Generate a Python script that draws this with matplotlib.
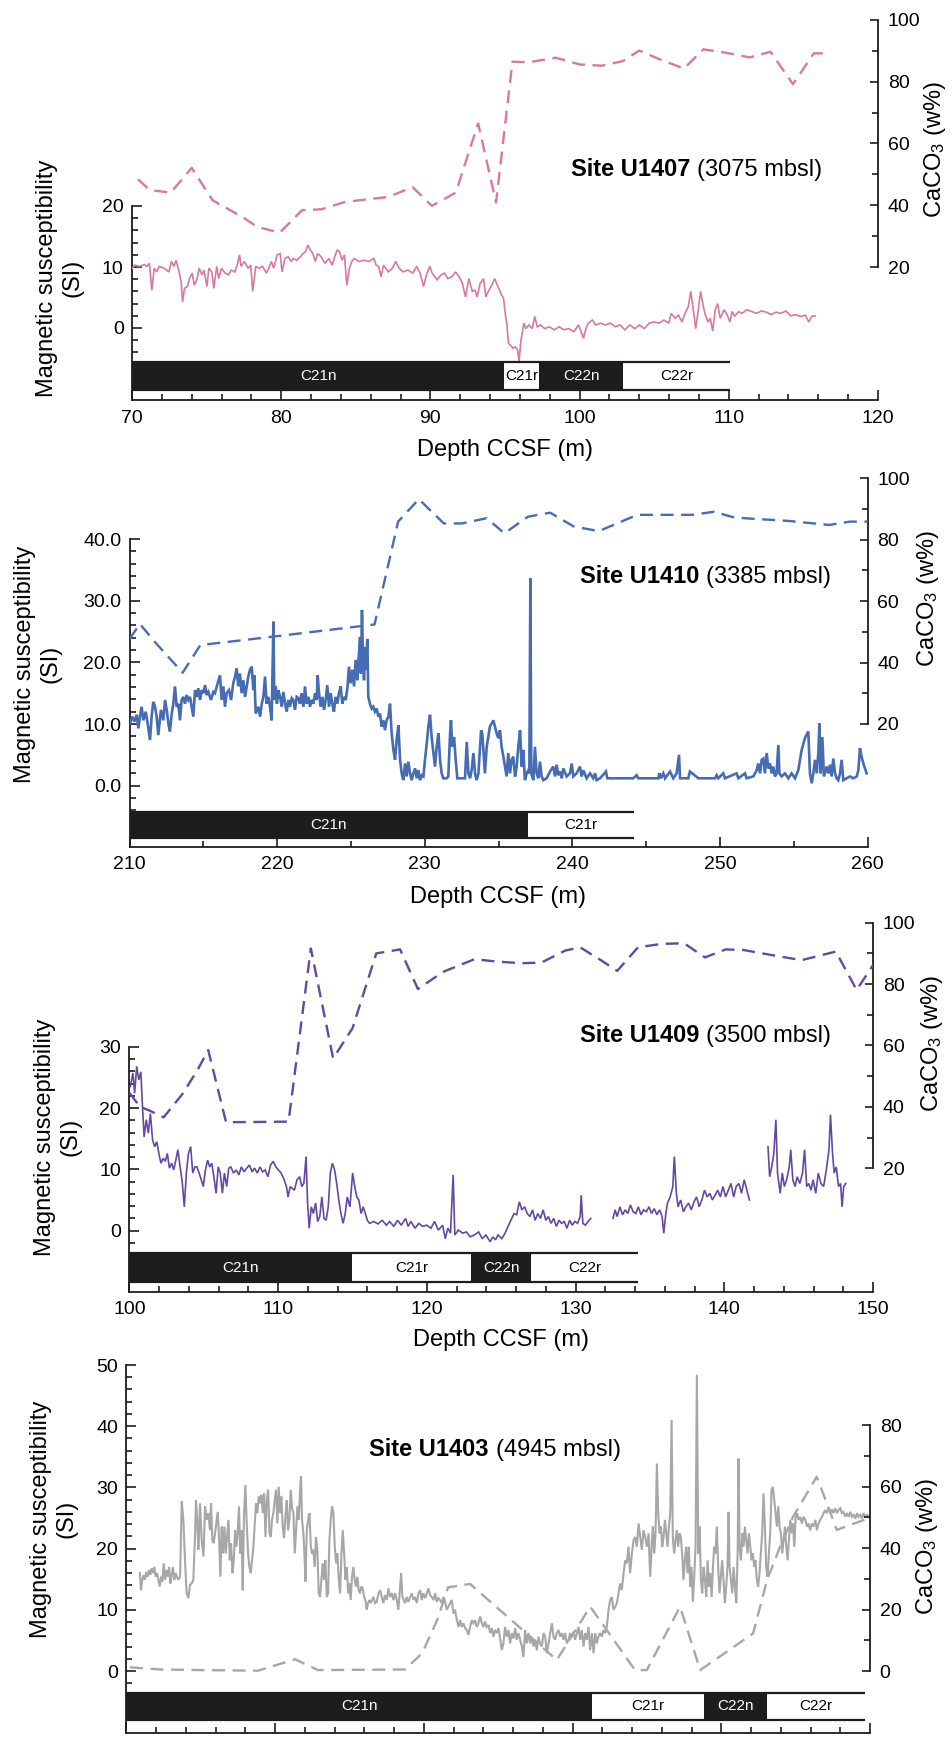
import matplotlib
matplotlib.use('Agg')
import matplotlib.pyplot as plt
from matplotlib.patches import Rectangle

plt.rcParams['font.family'] = ['Liberation Sans', 'DejaVu Sans']
plt.rcParams['mathtext.fontset'] = 'custom'
plt.rcParams['mathtext.rm'] = 'Liberation Sans'
plt.rcParams['mathtext.it'] = 'Liberation Sans:italic'
plt.rcParams['mathtext.bf'] = 'Liberation Sans:bold'

NaN = float('nan')

# ---------------- Site U1407 ----------------
u1407_ms_depth = [70.02,70.18,70.51,70.84,71.00,71.17,71.33,71.49,71.66,71.82,
72.15,72.47,72.64,72.80,72.96,73.13,73.29,73.39,73.52,73.71,
73.85,74.04,74.17,74.37,74.50,74.70,74.83,75.02,75.15,75.35,
75.48,75.68,75.81,76.00,76.23,76.46,76.66,76.89,77.05,77.21,
77.31,77.54,77.77,77.96,78.09,78.29,78.52,78.75,79.01,79.17,
79.34,79.50,79.73,79.93,80.06,80.25,80.48,80.65,80.81,81.04,
81.30,81.46,81.63,81.79,81.95,82.12,82.28,82.44,82.67,82.93,
83.20,83.42,83.59,83.75,83.91,84.08,84.24,84.40,84.57,84.73,
84.89,85.22,85.55,85.88,86.20,86.37,86.53,86.69,86.86,87.18,
87.45,87.67,87.90,88.16,88.49,88.82,89.08,89.31,89.54,89.73,
89.96,90.12,90.45,90.71,90.94,91.17,91.43,91.69,91.92,92.15,
92.35,92.58,92.81,93.00,93.13,93.33,93.56,93.72,93.88,94.11,
94.31,94.44,94.64,94.77,94.90,95.03,95.13,95.23,95.36,95.52,
95.68,95.85,95.94,96.07,96.27,96.40,96.60,96.83,96.99,97.16,
97.39,97.65,97.97,98.30,98.63,98.95,99.28,99.61,99.93,100.10,
100.26,100.42,100.59,100.85,101.08,101.40,101.73,102.06,102.38,102.71,
103.04,103.36,103.69,104.02,104.34,104.67,105.00,105.33,105.65,105.98,
106.14,106.40,106.63,106.86,107.12,107.29,107.45,107.61,107.78,107.94,
108.11,108.27,108.43,108.60,108.76,108.92,109.09,109.25,109.42,109.68,
109.90,110.07,110.23,110.39,110.66,110.88,111.21,111.54,111.86,112.19,
112.52,112.84,113.17,113.50,113.82,114.15,114.48,114.81,115.13,115.36,
115.56,115.79]
u1407_ms_si = [9.8,10.3,10.1,10.4,10.1,10.6,6.2,9.8,9.2,10.1,
9.8,9.2,10.9,10.1,11.1,9.5,7.6,4.3,6.5,6.8,
8.1,9.0,7.0,8.1,9.8,8.7,9.5,6.8,9.8,9.2,
6.5,10.1,8.1,9.8,9.0,8.7,9.5,9.2,10.3,12.0,
10.1,10.9,9.8,10.3,6.0,10.1,9.8,10.1,9.0,9.8,
10.9,9.8,12.0,12.2,9.2,11.4,11.7,10.9,11.4,11.1,
11.7,12.2,12.5,13.6,12.8,12.2,10.9,12.2,11.7,10.6,
11.4,10.3,11.7,12.8,12.5,11.1,12.0,7.0,9.8,10.9,
11.4,10.9,11.1,10.9,11.4,10.3,10.1,8.4,10.3,9.2,
9.8,10.9,9.8,9.2,9.5,9.0,10.1,9.0,6.8,8.7,
10.1,9.0,7.9,8.7,9.0,8.1,8.4,9.2,8.4,7.3,
5.1,8.1,6.0,6.2,5.1,7.3,8.1,5.1,6.0,7.0,
8.1,7.3,6.2,5.4,4.9,2.1,0.5,-2.5,-2.8,-3.3,
-3.1,-3.6,-5.5,-2.0,0.8,-0.1,0.5,-0.1,1.9,0.2,
0.5,-0.1,0.2,-0.3,0.2,-0.3,-0.1,-0.6,0.5,-0.6,
-1.7,-0.1,0.8,1.3,0.5,0.8,0.5,0.8,0.2,0.5,
-0.3,0.5,-0.1,0.5,-0.1,0.8,1.0,0.8,1.3,0.8,
2.4,1.6,2.1,1.0,2.7,3.5,6.0,3.2,-0.1,2.7,
6.0,3.8,2.1,1.0,1.6,-0.5,3.0,4.0,1.6,3.0,
2.1,1.0,2.7,1.9,2.7,2.4,3.0,2.7,2.4,2.8,
2.6,2.2,2.6,2.4,2.8,2.0,2.2,1.9,2.1,1.0,
1.9,2.0]
u1407_caco3_depth = [70.4,71.2,72.6,74.0,75.4,77.4,78.4,79.9,81.4,82.7,84.3,87.2,88.8,90.1,
                     91.7,93.2,94.4,95.5,96.6,98.4,100.0,101.5,102.9,104.0,105.5,107.0,
                     108.3,109.8,111.4,112.8,114.3,115.7,116.3]
u1407_caco3_pct = [48.4,44.9,44.1,52.1,41.6,36.2,33.0,31.1,38.4,38.7,41.1,42.7,45.9,39.8,
                   44.1,66.5,40.9,86.5,86.3,87.8,85.6,85.2,86.7,90.1,87.0,84.3,
                   90.5,89.4,87.9,89.7,79.2,89.2,89.2]
u1407_chron_names = ['C21n', 'C21r', 'C22n', 'C22r']
u1407_chron_top = [70.0, 94.95, 97.3, 102.9]
u1407_chron_base = [94.95, 97.3, 102.9, 110.1]
u1407_chron_normal = [True, False, True, False]

# ---------------- Site U1410 ----------------
u1410_ms_depth = [210.03,210.19,210.33,210.49,210.60,210.71,210.82,210.94,211.10,211.23,
211.39,211.50,211.61,211.73,211.84,211.95,212.13,212.29,212.41,212.54,
212.63,212.74,212.86,212.97,213.08,213.20,213.31,213.42,213.53,213.65,
213.76,213.87,213.99,214.10,214.21,214.32,214.44,214.55,214.66,214.78,
214.89,215.00,215.12,215.23,215.34,215.52,215.68,215.79,215.97,216.13,
216.24,216.36,216.47,216.58,216.74,216.88,217.03,217.15,217.26,217.37,
217.48,217.60,217.71,217.83,217.94,218.05,218.16,218.28,218.39,218.46,
218.55,218.73,218.85,218.96,219.07,219.18,219.29,219.41,219.52,219.63,
219.75,219.81,219.90,219.99,220.08,220.20,220.31,220.42,220.54,220.65,
220.76,220.87,220.99,221.10,221.21,221.33,221.44,221.55,221.66,221.78,
221.89,222.00,222.12,222.23,222.34,222.46,222.57,222.68,222.75,222.84,
222.95,223.07,223.18,223.29,223.40,223.52,223.63,223.74,223.85,223.97,
224.08,224.19,224.31,224.42,224.53,224.65,224.76,224.87,224.98,225.10,
225.21,225.32,225.44,225.50,225.62,225.68,225.75,225.82,225.89,225.96,
226.02,226.11,226.18,226.29,226.41,226.52,226.63,226.75,226.86,226.97,
227.08,227.20,227.31,227.42,227.54,227.65,227.76,227.88,227.99,228.10,
228.22,228.33,228.44,228.55,228.67,228.78,228.89,229.01,229.12,229.23,
229.35,229.46,229.57,229.68,229.80,229.91,230.02,230.14,230.25,230.36,
230.47,230.59,230.70,230.81,230.93,231.04,231.15,231.26,231.49,231.60,
231.72,231.78,231.87,231.99,232.10,232.21,232.73,232.85,232.96,233.07,
233.18,233.30,233.41,233.52,233.64,233.82,233.90,233.99,234.08,234.20,
234.31,234.42,234.54,234.65,234.76,234.87,234.99,235.10,235.21,235.33,
235.44,
235.55,235.66,235.78,235.89,236.00,236.12,236.23,236.34,236.46,236.57,
236.68,236.79,236.91,237.02,237.09,237.16,237.22,237.36,237.47,237.58,
237.70,237.81,237.92,238.04,238.26,238.49,238.71,238.83,238.94,239.05,
239.17,239.28,239.39,239.62,239.84,239.96,240.07,240.29,240.52,240.63,
240.75,240.97,241.20,241.42,241.54,241.65,241.88,242.28,242.37,244.13,
244.36,244.47,245.83,245.90,245.99,246.17,246.28,246.62,246.84,247.07,
247.23,247.30,247.86,247.97,248.54,249.67,249.78,249.89,250.23,250.34,
251.13,251.25,251.70,251.81,252.26,252.49,252.60,252.72,252.83,252.94,
253.05,253.17,253.28,253.39,253.51,253.62,253.73,253.84,253.96,254.03,
254.18,254.41,254.64,254.86,255.09,255.31,255.54,255.76,255.99,256.10,
256.22,256.33,256.44,256.56,256.67,256.74,256.83,256.94,257.05,257.23,
257.35,257.46,257.57,257.68,257.80,257.91,258.02,258.14,258.25,258.36,
258.81,259.04,259.27,259.38,259.49,259.60,259.72,259.83,259.94]
u1410_ms_si = [10.1,11.2,10.4,11.5,9.3,11.2,12.8,10.6,12.0,10.1,
7.4,11.2,13.6,12.8,11.2,8.2,12.3,10.6,13.9,12.0,
10.1,8.8,11.7,13.3,16.1,12.8,13.3,10.6,13.9,14.4,
13.3,14.7,13.9,14.4,12.8,11.2,15.5,14.4,15.8,13.9,
15.5,15.0,16.3,14.7,15.2,13.9,15.2,15.0,16.6,17.9,
13.9,16.1,12.8,15.0,15.5,13.9,16.6,17.7,19.0,16.1,
18.2,15.0,17.1,14.4,16.1,17.7,18.8,19.3,15.5,17.9,
11.7,12.8,11.2,13.3,14.4,17.7,13.3,14.4,12.8,10.6,
26.6,13.9,16.1,13.3,15.5,14.4,12.8,15.2,13.3,12.0,
13.9,12.8,14.2,13.9,12.3,14.4,14.2,13.3,15.0,12.8,
16.1,13.3,14.4,12.8,13.9,13.3,15.0,13.9,17.9,15.0,
12.8,14.4,12.3,13.9,16.3,12.8,15.0,13.3,12.0,14.4,
13.3,15.0,16.1,13.3,14.4,13.9,15.8,19.3,16.6,18.8,
16.1,20.4,17.1,19.8,24.1,18.2,28.5,20.4,17.1,22.5,
18.8,23.8,14.4,13.3,12.5,12.8,12.0,12.5,11.2,11.7,
9.6,10.6,9.0,10.6,11.2,13.3,8.5,5.8,4.2,7.4,
9.8,4.2,2.0,0.9,3.6,1.5,3.9,2.0,0.9,2.0,
2.8,1.2,2.5,0.9,1.7,1.5,4.2,6.9,9.6,11.5,
7.9,5.3,3.1,6.3,8.5,4.2,2.0,1.2,1.2,1.5,
8.5,10.6,6.3,7.9,4.2,1.2,1.2,7.1,2.0,1.2,
2.5,5.3,2.0,0.9,2.0,9.0,8.5,5.3,2.0,6.3,
7.9,9.6,10.1,10.6,9.6,8.5,7.7,9.0,6.3,4.7,
3.1,
1.5,5.3,2.0,4.2,4.7,1.5,3.1,6.3,9.0,3.1,
5.8,0.9,2.0,2.5,2.0,33.6,2.0,0.9,6.3,2.0,
1.2,3.9,1.5,0.9,1.2,2.3,3.1,1.5,3.4,1.7,
2.3,1.2,2.8,1.5,2.0,3.6,1.5,2.0,3.1,1.5,
2.5,1.2,2.0,1.2,2.0,0.9,1.2,2.3,1.2,1.2,
1.7,1.2,1.2,2.0,1.2,2.0,1.2,2.3,1.2,2.0,
5.0,1.2,1.2,2.3,1.2,1.2,1.7,1.2,2.0,1.2,
2.0,1.2,2.0,1.2,1.5,2.5,3.6,2.0,4.2,4.4,
2.0,5.3,2.8,3.6,2.0,3.1,1.5,2.0,6.6,2.0,
1.5,2.0,1.2,2.0,1.2,2.5,5.8,7.7,8.8,2.0,
0.4,2.0,4.2,2.0,5.3,10.1,2.0,7.9,1.5,3.1,
2.0,3.4,1.5,4.4,2.0,1.2,0.9,2.0,4.2,0.9,
1.5,1.2,1.5,2.5,6.1,4.7,3.6,2.8,2.0]
u1410_caco3_depth = [210.0,210.7,211.7,213.6,214.8,220.0,225.9,226.6,228.2,229.6,231.3,232.5,
                     234.2,235.4,237.0,238.5,240.1,241.8,244.4,248.1,249.6,251.0,254.7,257.4,
                     258.8,260.0]
u1410_caco3_pct = [47.6,52.6,46.8,36.7,45.7,48.6,52.0,52.4,85.9,93.2,85.3,85.3,
                   87.0,82.1,87.5,88.8,84.3,82.8,88.1,88.1,89.1,87.2,86.1,84.8,
                   85.9,85.9]
u1410_chron_names = ['C21n', 'C21r']
u1410_chron_top = [210.0, 237.0]
u1410_chron_base = [237.0, 244.2]
u1410_chron_normal = [True, False]

# ---------------- Site U1409 ----------------
u1409_ms_depth = [100.06,100.24,100.35,100.49,100.63,100.77,100.88,100.99,101.13,101.27,
101.41,101.48,101.56,101.70,101.84,101.98,102.12,102.27,102.41,102.55,
102.69,102.84,102.98,103.12,103.26,103.41,103.55,103.69,103.83,103.97,
104.12,104.26,104.40,104.54,104.69,104.83,104.97,105.11,105.26,105.40,
105.54,105.68,105.83,105.97,106.11,106.25,106.39,106.54,106.68,106.82,
107.00,107.18,107.36,107.53,107.71,107.89,108.07,108.25,108.42,108.60,
108.78,108.96,109.13,109.31,109.49,109.67,109.85,110.02,110.20,110.38,
110.56,110.67,110.81,110.95,111.09,111.27,111.45,111.59,111.73,111.88,
111.98,112.09,112.23,112.37,112.52,112.66,112.80,112.94,113.09,113.23,
113.37,113.51,113.65,113.80,113.94,114.08,114.22,114.37,114.51,114.65,
114.83,115.01,115.15,115.29,115.43,115.58,115.72,115.86,116.00,116.15,
116.43,116.71,117.00,117.28,117.50,117.78,118.03,118.28,118.57,118.74,
118.92,119.21,119.46,119.71,119.99,120.27,120.52,120.77,121.06,121.24,
121.41,121.59,121.77,121.88,122.12,122.41,122.66,122.91,123.19,123.48,
123.73,123.97,124.26,124.44,124.61,124.79,125.04,125.26,125.40,125.61,
125.86,126.04,126.22,126.39,126.57,126.75,126.93,127.11,127.28,127.46,
127.64,127.82,128.00,128.17,128.35,128.53,128.71,128.89,129.06,129.24,
129.42,129.60,129.77,129.95,130.13,130.31,130.38,130.49,130.66,130.84,
131.02, NaN,
132.52,132.66,132.80,132.98,133.16,133.34,133.51,133.69,133.87,134.05,
134.22,134.40,134.58,134.76,134.94,135.11,135.29,135.47,135.65,135.82,
135.93,136.07,136.18,136.36,136.54,136.64,136.78,136.89,137.07,137.25,
137.42,137.60,137.78,137.96,138.14,138.31,138.49,138.67,138.85,139.03,
139.20,139.38,139.56,139.74,139.91,140.09,140.27,140.45,140.63,140.80,
140.98,141.16,141.34,141.52,141.69, NaN,
142.94,143.05,143.19,143.33,143.47,143.58,143.76,143.90,144.04,144.19,
144.37,144.47,144.61,144.76,144.90,145.08,145.26,145.40,145.54,145.68,
145.83,145.97,146.15,146.32,146.50,146.68,146.86,147.04,147.14,147.28,
147.39,147.53,147.68,147.82,147.92,148.03,148.17]
u1409_ms_si = [23.5,25.7,22.4,26.8,24.6,25.9,20.2,15.3,18.1,15.9,
19.1,17.0,14.8,13.7,14.5,12.6,11.0,11.8,11.3,12.6,
10.2,11.0,9.9,11.5,13.2,10.4,8.0,3.9,9.4,12.6,
13.7,9.4,10.4,10.4,9.4,8.3,7.2,9.9,11.5,10.4,
11.0,8.8,6.1,10.4,9.4,6.1,9.4,7.2,10.2,10.4,
9.4,9.9,9.1,10.4,9.6,10.2,10.7,9.6,10.2,9.4,
10.4,9.6,9.9,8.8,10.7,11.3,10.4,9.9,9.4,8.5,
7.2,5.5,7.2,6.9,6.6,8.3,8.8,7.2,7.7,12.1,
4.5,0.4,3.9,2.8,4.5,1.5,2.3,5.5,2.0,1.7,
3.9,9.4,11.0,9.9,7.7,5.0,2.8,1.2,2.8,5.5,
3.9,9.4,7.2,5.5,5.0,2.8,3.9,2.8,1.7,1.2,
1.5,1.1,1.7,0.9,1.5,0.7,1.7,0.9,2.0,0.7,
1.5,0.4,1.2,0.7,0.9,0.4,1.5,0.1,0.9,-1.3,
0.4,-0.4,9.1,-0.7,0.1,-0.4,-0.2,-1.0,-0.7,-0.2,
-1.3,-0.7,-1.8,-1.0,-1.5,-0.7,-1.3,-0.4,0.4,1.5,
2.8,2.6,4.7,3.4,3.9,2.8,2.3,3.4,1.7,2.8,
2.0,3.4,1.7,2.3,1.2,2.0,0.7,1.7,1.2,1.5,
0.4,1.7,0.9,1.5,1.2,2.3,5.8,1.2,0.9,1.5,
2.0, NaN,
2.0,3.4,2.3,3.9,2.6,3.4,2.8,4.2,3.1,2.8,
3.9,2.6,3.4,3.1,3.9,2.8,3.6,2.6,3.4,2.3,
-0.4,2.8,4.5,5.5,7.2,12.1,6.1,3.9,5.0,3.1,
3.9,4.5,3.4,4.7,5.5,3.9,5.0,6.6,5.5,6.1,
5.0,5.8,6.6,5.5,7.2,5.5,6.6,7.7,5.5,7.2,
7.7,6.1,8.3,6.6,5.0, NaN,
13.7,8.8,10.4,12.6,18.1,9.4,6.1,9.4,7.2,8.3,
10.4,13.2,8.3,7.2,8.8,7.7,9.4,13.2,7.2,7.7,
6.6,8.3,6.1,9.4,7.7,7.2,9.9,13.2,18.9,12.6,
9.4,10.4,7.2,7.7,3.9,7.2,7.7]
u1409_caco3_depth = [100.0,100.7,101.4,102.3,103.6,104.6,105.3,106.5,110.7,112.2,
                     113.7,115.0,116.6,118.2,119.4,121.1,123.2,124.8,126.4,127.7,
                     129.3,130.3,131.7,132.8,134.2,135.8,137.3,138.7,140.1,141.3,
                     143.6,145.2,147.5,148.9,150.0]
u1409_caco3_pct = [44.6,40.1,38.7,36.6,44.4,52.2,58.5,35.0,35.2,91.6,
                   55.8,65.6,90.0,91.3,78.4,84.0,88.1,87.3,86.8,87.0,
                   90.9,92.0,87.8,84.3,92.0,93.1,93.3,88.7,91.3,91.1,
                   89.1,87.8,90.6,78.1,86.2]
u1409_chron_names = ['C21n', 'C21r', 'C22n', 'C22r']
u1409_chron_top = [100.0, 115.0, 123.0, 127.0]
u1409_chron_base = [115.0, 123.0, 127.0, 134.2]
u1409_chron_normal = [True, False, True, False]

# ---------------- Site U1403 ----------------
u1403_ms_depth = [120.91,120.98,121.07,121.16,121.25,121.34,121.43,121.52,121.61,121.70,
121.79,121.88,121.97,122.06,122.15,122.24,122.33,122.42,122.51,122.60,
122.69,122.78,122.87,122.96,123.04,123.13,123.22,123.31,123.40,123.49,
123.61,123.72,123.83,123.94,124.05,124.17,124.28,124.39,124.50,124.61,
124.68,124.77,124.84,124.95,125.06,125.18,125.29,125.40,125.51,125.62,
125.69,125.78,125.87,125.96,126.07,126.14,126.23,126.32,126.41,126.50,
126.59,126.68,126.77,126.86,126.95,127.04,127.13,127.22,127.31,127.40,
127.48,127.57,127.66,127.75,127.82,127.91,128.00,128.09,128.18,128.27,
128.36,128.45,128.54,128.63,128.72,128.81,128.90,128.99,129.08,129.17,
129.26,129.35,129.44,129.53,129.62,129.71,129.79,129.88,129.97,130.06,
130.15,130.24,130.33,130.42,130.51,130.60,130.69,130.78,130.87,130.96,
131.05,131.14,131.23,131.32,131.41,131.50,131.59,131.68,131.74,131.81,
131.90,131.97,132.04,132.13,132.22,132.31,132.40,132.48,132.57,132.66,
132.75,132.84,132.93,133.02,133.11,133.20,133.29,133.38,133.47,133.56,
133.65,133.74,133.83,133.92,134.01,134.10,134.19,134.28,134.37,134.46,
134.55,134.64,134.73,134.82,134.91,135.00,135.08,135.17,135.26,135.35,
135.44,135.53,135.62,135.71,135.80,135.89,135.98,136.07,136.16,136.25,
136.34,136.43,136.52,136.61,136.72,136.83,136.95,137.06,137.17,137.28,
137.39,137.51,137.62,137.73,137.84,137.96,138.07,138.18,138.29,138.40,
138.47,138.56,138.65,138.74,138.85,138.96,139.08,139.19,139.30,139.41,
139.53,139.64,139.75,139.86,139.97,140.09,140.20,140.31,140.42,140.53,
140.65,140.76,140.87,140.98,141.09,141.21,141.32,141.43,141.54,141.65,
141.77,141.88,141.99,142.10,142.22,142.33,142.44,142.55,142.66,142.78,
142.89,143.00,143.11,143.22,143.34,143.45,143.56,143.67,143.79,143.90,
144.01,144.12,144.23,144.35,144.46,144.57,144.68,144.79,144.91,145.02,
145.13,145.24,145.35,
145.46,145.58,145.69,145.80,145.91,146.03,146.14,146.25,146.36,146.48,
146.59,146.70,146.81,146.92,147.04,147.15,147.26,147.37,147.48,147.60,
147.71,147.82,147.93,148.05,148.16,148.27,148.38,148.49,148.61,148.72,
148.83,148.94,149.05,149.17,149.28,149.39,149.50,149.61,149.73,149.84,
149.95,150.06,150.17,150.29,150.40,150.51,150.62,150.74,150.85,150.96,
151.07,151.18,151.30,151.41,151.52,151.63,151.74,151.86,151.97,152.08,
152.19,152.30,152.42,152.53,152.64,152.75,152.87,152.98,153.09,153.20,
153.31,153.43,153.54,153.65,153.76,153.87,153.99,154.10,154.21,154.32,
154.44,154.55,154.66,154.77,154.88,155.00,155.11,155.22,155.33,155.40,
155.49,155.58,155.67,155.76,155.85,155.94,156.03,156.12,156.21,156.30,
156.39,156.48,156.57,156.66,156.74,156.83,156.92,157.01,157.10,157.19,
157.28,157.37,157.46,157.55,157.64,157.73,157.82,157.91,158.00,158.09,
158.18,158.27,158.36,158.45,158.54,158.63,158.72,158.81,158.90,158.99,
159.08,159.17,159.26,159.35,159.44,159.52,159.61,159.70,159.79,159.88,
159.97,160.06,160.15,160.24,160.33,160.42,160.49,160.56,160.65,160.74,
160.83,160.92,161.01,161.10,161.16,161.23,161.32,161.41,161.50,161.59,
161.68,161.77,161.86,161.95,162.04,162.13,162.22,162.30,162.39,162.48,
162.57,162.66,162.75,162.84,162.93,163.02,163.11,163.20,163.29,163.38,
163.47,163.56,163.65,163.74,163.83,163.92,164.01,164.10,164.19,164.28,
164.37,164.46,164.55,164.64,164.73,164.82,164.91,165.00,165.09,165.20,
165.31,165.42,165.53,165.65,165.76,165.87,165.98,166.09,166.21,166.32,
166.43,166.54,166.66,166.77,166.88,166.99,167.10,167.22,167.33,167.44,
167.55,167.66,167.78,167.89,168.00,168.11,168.22,168.34,168.45,168.56,
168.67,168.79,168.90,169.01,169.12,169.23,169.35,169.46,169.57,169.68,
169.79,169.91]
u1403_ms_si = [16.0,13.2,14.9,15.7,14.9,16.2,15.4,16.5,15.7,16.8,
16.0,17.0,15.4,16.0,14.9,13.8,15.4,14.6,17.6,14.9,
16.5,15.4,17.0,14.3,15.7,17.0,14.9,16.0,15.4,14.9,
15.4,27.7,24.7,18.1,12.7,11.9,14.1,14.3,14.9,21.9,
27.9,24.1,19.8,27.4,21.4,18.7,26.9,24.7,25.8,23.0,
27.4,21.4,20.9,22.5,24.7,26.0,21.9,15.4,23.6,19.2,
23.6,19.2,21.9,24.7,18.1,20.9,16.0,18.1,23.0,20.3,
22.5,26.9,19.2,23.0,13.2,25.8,30.4,24.1,19.2,17.0,
16.0,18.1,20.3,24.1,27.4,25.8,28.5,27.4,28.8,25.8,
29.0,21.9,27.9,29.6,22.5,21.9,24.7,25.8,27.9,29.6,
24.1,30.1,25.8,28.5,23.6,21.7,25.2,27.9,23.0,24.7,
29.6,26.6,25.8,19.2,23.0,26.9,24.7,29.6,31.8,24.7,
22.5,19.2,14.6,23.0,24.7,25.8,20.3,19.2,19.8,17.0,
21.9,19.8,12.7,12.1,14.9,17.6,14.9,18.1,12.1,12.7,
21.4,24.7,26.9,25.8,20.3,17.6,19.2,14.9,12.7,19.2,
23.0,19.2,14.9,17.0,12.7,14.3,11.6,15.4,17.0,14.9,
13.8,15.4,13.2,12.7,13.8,13.5,12.1,11.6,10.0,11.1,
11.6,11.1,11.6,12.1,11.1,11.3,12.7,13.2,12.1,11.1,
12.4,11.6,13.5,12.1,12.7,11.6,12.7,11.6,10.0,13.8,
16.0,12.1,11.6,11.1,12.1,11.3,12.1,12.7,11.6,12.1,
11.1,12.7,13.2,11.6,12.7,11.9,12.7,13.5,12.4,12.1,
11.6,12.7,11.3,11.9,11.6,11.1,12.1,11.3,10.0,10.5,
11.1,11.6,9.4,10.0,8.3,7.2,8.3,7.2,7.8,7.0,
6.7,5.9,7.2,8.3,7.8,8.3,7.2,7.8,8.9,7.8,
7.2,8.1,7.2,7.5,6.2,7.0,5.6,6.7,6.2,7.0,
5.3,3.4,4.5,
7.2,5.6,6.7,4.5,6.2,5.3,7.0,5.1,6.2,5.1,
4.0,2.3,6.7,4.5,6.2,4.5,5.6,4.0,5.1,3.4,
5.6,4.5,4.0,6.2,5.6,2.9,4.5,6.2,7.8,5.6,
5.1,6.2,6.7,5.6,6.2,5.1,6.2,4.5,5.1,6.2,
5.6,6.4,5.1,6.2,7.2,5.1,6.7,4.0,6.2,5.1,
7.2,3.4,6.2,2.9,6.2,4.5,5.6,6.2,5.6,6.7,
6.2,7.2,10.0,11.6,12.1,10.0,10.5,11.1,12.7,14.3,
13.2,16.0,18.1,17.6,20.3,16.0,19.2,21.4,21.9,20.3,
24.1,21.9,19.8,23.0,21.9,20.3,22.5,15.4,20.9,23.6,
19.2,22.5,33.9,25.8,22.5,23.6,20.3,21.9,24.7,22.5,
20.3,23.6,25.8,41.0,21.9,19.2,21.4,23.0,20.3,22.5,
21.9,19.2,14.9,18.1,20.3,16.0,20.3,13.8,17.0,11.3,
15.4,20.3,48.4,19.2,23.6,14.9,12.7,17.0,14.9,12.1,
18.1,13.8,16.0,12.1,17.0,20.3,19.2,23.6,17.0,12.7,
15.4,18.1,14.9,11.1,13.8,17.0,26.0,17.0,14.9,12.7,
17.0,13.8,11.1,19.2,34.7,20.3,18.1,22.5,20.3,23.6,
21.4,19.2,22.5,20.3,18.1,19.2,17.0,18.1,14.9,13.8,
16.0,19.2,22.5,29.0,23.6,17.0,15.4,19.2,22.5,29.6,
30.1,27.9,25.8,23.6,26.9,23.6,22.5,19.2,21.4,23.6,
20.3,18.1,21.4,24.7,22.5,24.1,20.3,25.2,25.8,24.7,
25.2,24.1,25.2,24.7,23.6,24.1,23.0,24.1,23.6,24.7,
23.0,24.1,24.7,25.2,25.8,26.3,25.8,26.6,26.0,26.3,
25.8,26.6,25.8,26.3,26.6,25.8,26.0,25.2,25.8,25.2,
26.0,25.2,25.5,24.9,25.8,25.2,25.5,24.9,25.8,25.2,
25.5,25.2]
u1403_caco3_depth = [120.24,122.26,124.95,128.85,131.34,132.88,138.73,139.88,140.89,141.63,
                     143.11,148.94,151.19,154.20,154.99,157.23,158.58,162.14,163.08,163.95,
                     164.83,166.42,167.77,169.87]
u1403_caco3_pct = [1.2,0.5,0.3,0.1,3.8,0.3,0.5,5.7,16.5,27.2,
                   28.3,3.6,20.9,0.3,0.3,20.9,0.3,12.2,29.6,40.4,
                   50.2,63.2,45.9,49.6]
u1403_chron_names = ['C21n', 'C21r', 'C22n', 'C22r']
u1403_chron_top = [120.0, 151.31, 158.81, 163.06]
u1403_chron_base = [151.31, 158.81, 163.06, 169.64]
u1403_chron_normal = [True, False, True, False]

site_names = ['Site U1407', 'Site U1410', 'Site U1409', 'Site U1403']
site_depths = ['(3075 mbsl)', '(3385 mbsl)', '(3500 mbsl)', '(4945 mbsl)']

# ---------------- figure ----------------
W, H = 952, 1742
fig = plt.figure(figsize=(W / 100, H / 100), dpi=100)
BLACK = '#1e1c1d'


def px_ylim(top, bottom, a, b):
    (v1, p1), (v2, p2) = a, b
    s = (p1 - p2) / (v2 - v1)
    return v1 - (bottom - p1) / s, v1 + (p1 - top) / s


def ftext(x, y, s, **kw):
    return fig.text(x / W, 1 - y / H, s, **kw)


panels = [
    dict(ms=(u1407_ms_depth, u1407_ms_si), ca=(u1407_caco3_depth, u1407_caco3_pct),
         chrons=(u1407_chron_names, u1407_chron_top, u1407_chron_base, u1407_chron_normal),
         color='#d87a98', ms_lw=1.2, ca_color='#d87a98',
         box=(132, 878, 20, 400), la=((0, 328), (20, 206)), ra=((20, 267), (100, 20)),
         xlim=(70, 120), xmaj=list(range(70, 121, 10)), xmin=list(range(70, 121, 2)),
         lmaj=[0, 10, 20], lmin=list(range(-10, 21, 2)), ltop=20, lfmt='%d',
         rmaj=[20, 40, 60, 80, 100], rmin=[30, 50, 70, 90], rb=(20, 100),
         bar=(-10.2, -5.6), ylab=(60, 278), rlab=(935, 150), xlab=(505, 450),
         title=(571, 176), showx=True),
    dict(ms=(u1410_ms_depth, u1410_ms_si), ca=(u1410_caco3_depth, u1410_caco3_pct),
         chrons=(u1410_chron_names, u1410_chron_top, u1410_chron_base, u1410_chron_normal),
         color='#466cb3', ms_lw=1.9, ca_color='#466cb3',
         box=(129.5, 867.5, 478.3, 846.7), la=((0, 785.7), (40, 539)), ra=((20, 724), (100, 478.3)),
         xlim=(210, 260), xmaj=list(range(210, 261, 10)), xmin=list(range(210, 261, 5)),
         lmaj=[0, 10, 20, 30, 40], lmin=list(range(-8, 41, 2)), ltop=40, lfmt='%.1f',
         rmaj=[20, 40, 60, 80, 100], rmin=[30, 50, 70, 90], rb=(20, 100),
         bar=(-8.53, -4.21), ylab=(38, 664), rlab=(928, 599), xlab=(498.5, 897),
         title=(580, 583), showx=True),
    dict(ms=(u1409_ms_depth, u1409_ms_si), ca=(u1409_caco3_depth, u1409_caco3_pct),
         chrons=(u1409_chron_names, u1409_chron_top, u1409_chron_base, u1409_chron_normal),
         color='#6449a2', ms_lw=1.2, ca_color='#6449a2',
         box=(129.4, 873, 922.7, 1291.7), la=((0, 1230.7), (30, 1046.7)), ra=((20, 1168.3), (100, 922.7)),
         xlim=(100, 150), xmaj=list(range(100, 151, 10)), xmin=list(range(100, 151, 2)),
         lmaj=[0, 10, 20, 30], lmin=list(range(-8, 31, 2)), ltop=30, lfmt='%d',
         rmaj=[20, 40, 60, 80, 100], rmin=[30, 50, 70, 90], rb=(20, 100),
         bar=(-8.32, -3.69), ylab=(58, 1137), rlab=(932, 1044), xlab=(501, 1340),
         title=(580, 1042), showx=True),
    dict(ms=(u1403_ms_depth, u1403_ms_si), ca=(u1403_caco3_depth, u1403_caco3_pct),
         chrons=(u1403_chron_names, u1403_chron_top, u1403_chron_base, u1403_chron_normal),
         color='#a7a7a7', ms_lw=1.5, ca_color='#a7a7a7',
         box=(126.4, 870, 1365, 1733), la=((0, 1671), (50, 1365)), ra=((0, 1671), (80, 1425)),
         xlim=(120, 170), xmaj=list(range(120, 171, 10)), xmin=list(range(120, 171, 2)),
         lmaj=[0, 10, 20, 30, 40, 50], lmin=list(range(-8, 51, 2)), ltop=50, lfmt='%d',
         rmaj=[0, 20, 40, 60, 80], rmin=[10, 30, 50, 70], rb=(0, 80),
         bar=(-8.01, -3.55), ylab=(54, 1519), rlab=(927, 1547), xlab=None,
         title=(369, 1456), showx=False),
]

TICK_FS = 14
LAB_FS = 17
renderer = fig.canvas.get_renderer()

for i, P in enumerate(panels):
    left, right, top, bottom = P['box']
    ax = fig.add_axes([left / W, 1 - bottom / H, (right - left) / W, (bottom - top) / H])
    ax2 = ax.twinx()
    ax.set_xlim(*P['xlim'])
    ylo, yhi = px_ylim(top, bottom, *P['la'])
    ax.set_ylim(ylo, yhi)
    ax2.set_ylim(*px_ylim(top, bottom, *P['ra']))
    ax2.patch.set_visible(False)

    # spines
    for sp in ['top', 'right']:
        ax.spines[sp].set_visible(False)
    for sp in ['top', 'left', 'bottom']:
        ax2.spines[sp].set_visible(False)
    ax.spines['left'].set_bounds(ylo, P['ltop'])
    ax2.spines['right'].set_bounds(*P['rb'])
    for sp in [ax.spines['left'], ax.spines['bottom'], ax2.spines['right']]:
        sp.set_linewidth(1.3)
        sp.set_color(BLACK)

    # ticks
    ax.set_xticks(P['xmaj'])
    ax.set_xticks([t for t in P['xmin'] if t not in P['xmaj']], minor=True)
    ax.set_yticks(P['lmaj'])
    ax.set_yticks([t for t in P['lmin'] if t not in P['lmaj']], minor=True)
    ax.set_yticklabels([P['lfmt'] % t for t in P['lmaj']])
    ax2.set_yticks(P['rmaj'])
    ax2.set_yticks(P['rmin'], minor=True)
    ax.tick_params(which='both', direction='in', width=1.2, color=BLACK,
                   labelsize=TICK_FS, top=False, right=False)
    ax.tick_params(which='major', length=7)
    ax.tick_params(which='minor', length=4)
    ax.tick_params(axis='y', pad=6)
    ax.tick_params(axis='x', pad=7, labelbottom=P['showx'])
    ax2.tick_params(which='both', direction='in', width=1.2, color=BLACK,
                    labelsize=TICK_FS, pad=7)
    ax2.tick_params(which='major', length=6)
    ax2.tick_params(which='minor', length=4)

    # data
    ax.plot(P['ms'][0], P['ms'][1], color=P['color'], lw=P['ms_lw'], zorder=3,
            solid_joinstyle='miter')
    ax2.plot(P['ca'][0], P['ca'][1], color=P['ca_color'], lw=1.7,
             dashes=(5.5, 3.2), zorder=3)

    # chron bar: black fills for normal polarity, white for reversed, framed top/bottom
    names, tops, bases, normal = P['chrons']
    y0, y1 = P['bar']
    for n, t, b, nm in zip(names, tops, bases, normal):
        ax.add_patch(Rectangle((t, y0), b - t, y1 - y0,
                               facecolor=BLACK if nm else 'white',
                               edgecolor='none', zorder=6))
        ax.text((t + b) / 2, (y0 + y1) / 2, n, color='white' if nm else 'black',
                ha='center', va='center', fontsize=11, zorder=8)
    ax.plot([tops[0], bases[-1]], [y0, y0], color=BLACK, lw=1.6, zorder=7,
            solid_capstyle='butt')
    ax.plot([tops[0], bases[-1]], [y1, y1], color=BLACK, lw=1.6, zorder=7,
            solid_capstyle='butt')

    # labels
    ftext(P['ylab'][0], P['ylab'][1], 'Magnetic susceptibility\n(SI)', rotation=90,
          ha='center', va='center', multialignment='center', fontsize=LAB_FS,
          linespacing=1.2)
    ftext(P['rlab'][0], P['rlab'][1], 'CaCO$_3$ (w%)', rotation=90,
          ha='center', va='center', fontsize=LAB_FS)
    if P['xlab'] is not None:
        ftext(P['xlab'][0], P['xlab'][1], 'Depth CCSF (m)', ha='center', va='center',
              fontsize=LAB_FS)
    tx, ty = P['title']
    tb = ftext(tx, ty, site_names[i], ha='left', va='baseline', fontsize=LAB_FS,
               fontweight='bold')
    bb = tb.get_window_extent(renderer=renderer)
    ftext(bb.x1 + 7, ty, site_depths[i], ha='left', va='baseline', fontsize=LAB_FS)

fig.savefig('out.png', dpi=100, facecolor='white')
